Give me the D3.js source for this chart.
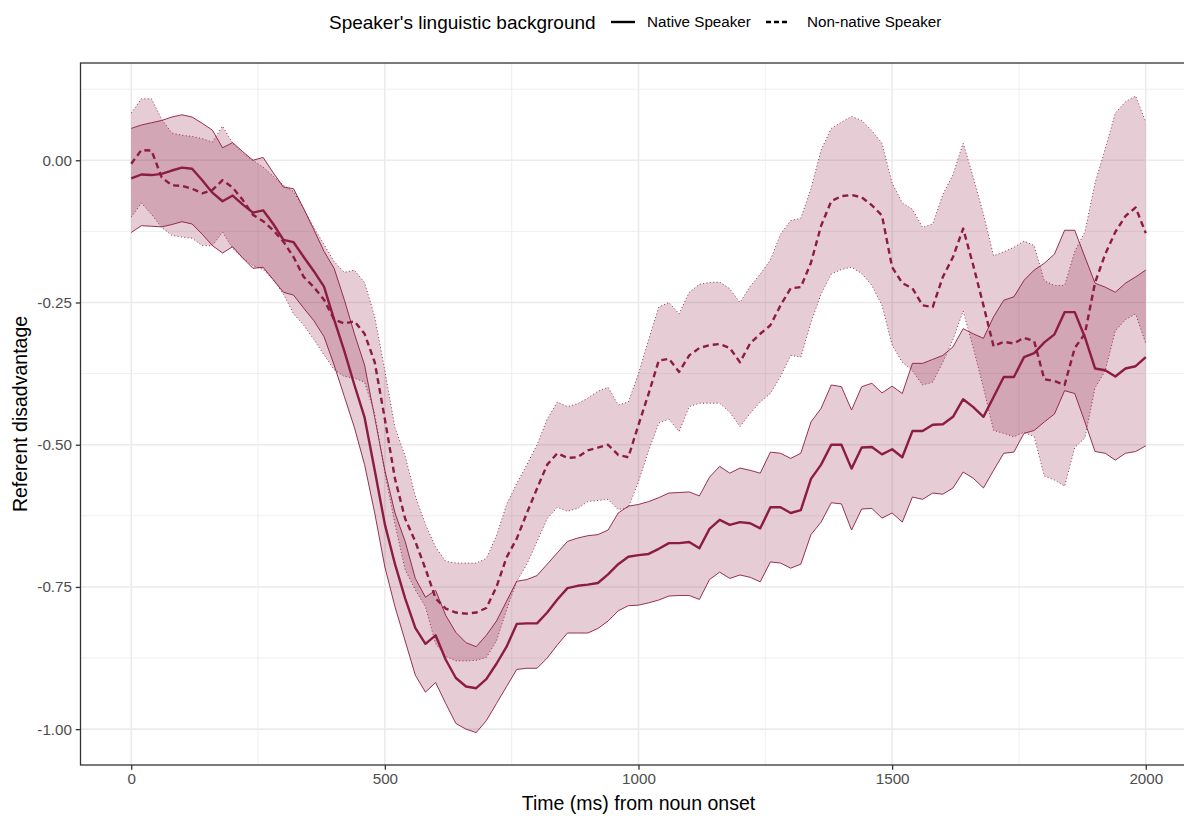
<!DOCTYPE html>
<html>
<head>
<meta charset="utf-8">
<script src="https://cdn.jsdelivr.net/npm/d3@7"></script>
<style>
  html, body { margin: 0; padding: 0; background: #ffffff; }
  svg { display: block; font-family: "Liberation Sans", Arial, sans-serif; }
</style>
</head>
<body>
<svg id="chart" width="1184" height="816"></svg>
<script>
// Time bins (ms from noun onset), one every 20 ms
const timeMs = d3.range(0, 2001, 20);

// Native speaker: mean referent disadvantage and its confidence band
const nativeMean = [
  -0.032,-0.025,-0.026,-0.024,-0.018,-0.013,-0.015,-0.035,-0.057,-0.072,
  -0.062,-0.078,-0.092,-0.088,-0.112,-0.140,-0.144,-0.170,-0.195,-0.222,
  -0.280,-0.335,-0.395,-0.452,-0.545,-0.640,-0.710,-0.770,-0.822,-0.850,
  -0.835,-0.878,-0.910,-0.925,-0.928,-0.912,-0.885,-0.855,-0.815,-0.814,
  -0.814,-0.795,-0.772,-0.752,-0.748,-0.746,-0.743,-0.728,-0.710,-0.697,
  -0.694,-0.692,-0.683,-0.673,-0.673,-0.671,-0.682,-0.648,-0.632,-0.641,
  -0.636,-0.638,-0.647,-0.610,-0.610,-0.620,-0.615,-0.560,-0.535,-0.500,
  -0.500,-0.542,-0.505,-0.504,-0.517,-0.508,-0.522,-0.476,-0.476,-0.465,
  -0.464,-0.451,-0.420,-0.434,-0.451,-0.416,-0.381,-0.381,-0.346,-0.339,
  -0.320,-0.306,-0.267,-0.267,-0.311,-0.366,-0.369,-0.380,-0.366,-0.362,
  -0.346
];
const nativeUpper = [
   0.056, 0.062, 0.066, 0.070, 0.076, 0.080, 0.076, 0.065, 0.053, 0.022,
   0.031, 0.015, 0.000, 0.005,-0.022,-0.047,-0.050,-0.085,-0.122,-0.160,
  -0.190,-0.245,-0.305,-0.360,-0.452,-0.545,-0.620,-0.670,-0.735,-0.768,
  -0.756,-0.800,-0.830,-0.848,-0.855,-0.835,-0.810,-0.775,-0.740,-0.737,
  -0.730,-0.710,-0.690,-0.670,-0.664,-0.660,-0.658,-0.650,-0.620,-0.608,
  -0.605,-0.600,-0.593,-0.585,-0.584,-0.583,-0.590,-0.557,-0.538,-0.550,
  -0.541,-0.545,-0.550,-0.513,-0.515,-0.524,-0.515,-0.460,-0.436,-0.395,
  -0.398,-0.439,-0.398,-0.392,-0.409,-0.397,-0.410,-0.357,-0.357,-0.350,
  -0.343,-0.328,-0.296,-0.305,-0.313,-0.275,-0.246,-0.240,-0.211,-0.193,
  -0.181,-0.165,-0.123,-0.123,-0.170,-0.216,-0.223,-0.232,-0.216,-0.205,
  -0.193
];
const nativeLower = [
  -0.127,-0.115,-0.116,-0.117,-0.113,-0.108,-0.112,-0.130,-0.150,-0.163,
  -0.152,-0.172,-0.190,-0.188,-0.210,-0.232,-0.237,-0.260,-0.282,-0.310,
  -0.360,-0.415,-0.470,-0.535,-0.620,-0.715,-0.785,-0.845,-0.905,-0.935,
  -0.918,-0.955,-0.990,-1.000,-1.006,-0.985,-0.955,-0.925,-0.895,-0.893,
  -0.893,-0.875,-0.852,-0.831,-0.831,-0.831,-0.823,-0.810,-0.792,-0.783,
  -0.782,-0.778,-0.773,-0.766,-0.765,-0.765,-0.772,-0.737,-0.724,-0.735,
  -0.729,-0.733,-0.741,-0.706,-0.708,-0.717,-0.710,-0.658,-0.636,-0.602,
  -0.604,-0.650,-0.613,-0.612,-0.629,-0.620,-0.636,-0.592,-0.596,-0.585,
  -0.587,-0.576,-0.548,-0.559,-0.576,-0.545,-0.515,-0.513,-0.480,-0.475,
  -0.460,-0.446,-0.405,-0.410,-0.460,-0.512,-0.515,-0.527,-0.515,-0.512,
  -0.502
];

// Non-native speaker: mean referent disadvantage and its confidence band
const nonNativeMean = [
  -0.006, 0.018, 0.017,-0.030,-0.044,-0.045,-0.050,-0.058,-0.052,-0.035,
  -0.048,-0.070,-0.096,-0.107,-0.123,-0.143,-0.170,-0.205,-0.223,-0.245,
  -0.280,-0.287,-0.283,-0.305,-0.355,-0.455,-0.560,-0.630,-0.670,-0.718,
  -0.770,-0.788,-0.795,-0.797,-0.795,-0.787,-0.750,-0.698,-0.665,-0.620,
  -0.577,-0.535,-0.515,-0.523,-0.522,-0.510,-0.505,-0.500,-0.518,-0.522,
  -0.465,-0.410,-0.352,-0.349,-0.372,-0.343,-0.330,-0.325,-0.323,-0.330,
  -0.355,-0.322,-0.305,-0.290,-0.255,-0.225,-0.223,-0.180,-0.115,-0.072,
  -0.063,-0.061,-0.065,-0.079,-0.097,-0.188,-0.216,-0.225,-0.255,-0.258,
  -0.205,-0.170,-0.120,-0.185,-0.255,-0.327,-0.319,-0.322,-0.312,-0.318,
  -0.385,-0.388,-0.395,-0.330,-0.305,-0.215,-0.165,-0.126,-0.098,-0.083,
  -0.128
];
const nonNativeUpper = [
   0.083, 0.108, 0.108, 0.072, 0.048, 0.044, 0.042, 0.038, 0.032, 0.060,
   0.030, 0.012, 0.000,-0.012,-0.028,-0.044,-0.055,-0.085,-0.118,-0.148,
  -0.178,-0.197,-0.193,-0.215,-0.275,-0.370,-0.470,-0.520,-0.590,-0.640,
  -0.680,-0.705,-0.708,-0.708,-0.708,-0.700,-0.660,-0.605,-0.568,-0.535,
  -0.500,-0.455,-0.425,-0.433,-0.428,-0.418,-0.406,-0.399,-0.430,-0.425,
  -0.375,-0.315,-0.258,-0.250,-0.270,-0.232,-0.218,-0.215,-0.214,-0.226,
  -0.250,-0.222,-0.200,-0.175,-0.130,-0.106,-0.102,-0.050, 0.018, 0.056,
   0.067, 0.077, 0.070, 0.052, 0.030,-0.040,-0.075,-0.086,-0.118,-0.112,
  -0.060,-0.025, 0.030,-0.030,-0.095,-0.168,-0.161,-0.153,-0.142,-0.150,
  -0.212,-0.220,-0.220,-0.160,-0.126,-0.040, 0.020, 0.083, 0.103, 0.113,
   0.067
];
const nonNativeLower = [
  -0.100,-0.075,-0.095,-0.118,-0.132,-0.135,-0.137,-0.150,-0.150,-0.126,
  -0.155,-0.172,-0.185,-0.192,-0.210,-0.235,-0.270,-0.290,-0.315,-0.342,
  -0.368,-0.380,-0.383,-0.390,-0.445,-0.550,-0.640,-0.720,-0.755,-0.785,
  -0.850,-0.872,-0.880,-0.880,-0.879,-0.874,-0.845,-0.790,-0.740,-0.710,
  -0.670,-0.630,-0.610,-0.617,-0.612,-0.600,-0.598,-0.596,-0.614,-0.610,
  -0.565,-0.510,-0.462,-0.455,-0.477,-0.433,-0.427,-0.427,-0.427,-0.443,
  -0.468,-0.445,-0.425,-0.410,-0.380,-0.343,-0.346,-0.285,-0.235,-0.200,
  -0.192,-0.188,-0.199,-0.220,-0.255,-0.325,-0.355,-0.370,-0.395,-0.390,
  -0.355,-0.315,-0.265,-0.330,-0.400,-0.475,-0.480,-0.486,-0.478,-0.486,
  -0.555,-0.562,-0.573,-0.505,-0.488,-0.400,-0.370,-0.300,-0.280,-0.270,
  -0.322
];

// Axis breaks
const xTicks = [0, 500, 1000, 1500, 2000];
const xMinorTicks = [250, 750, 1250, 1750];
const yTicks = [0, -0.25, -0.5, -0.75, -1];
const yMinorTicks = [0.125, -0.125, -0.375, -0.625, -0.875];

// Legend entries and titles
const groupLabels = ["Native Speaker", "Non-native Speaker"];
const legendTitle = "Speaker's linguistic background";
const xTitle = "Time (ms) from noun onset";
const yTitle = "Referent disadvantage";

// ---- layout ----
const panel = { left: 80.5, right: 1196.5, top: 63, bottom: 765 };
const lineColor = "#8c1c40";
const fillColor = "#8c1c40";
const fillOpacity = 0.22;
const meanWidth = 2.4;
const dashPattern = "6,4";

const svg = d3.select("#chart");

const x = d3.scaleLinear().domain([-100, 2100]).range([panel.left, panel.right]);
const y = d3.scaleLinear().domain([-1.063, 0.171]).range([panel.bottom, panel.top]);

const rows = timeMs.map((t, i) => ({
  t,
  nm: nativeMean[i], nu: nativeUpper[i], nl: nativeLower[i],
  qm: nonNativeMean[i], qu: nonNativeUpper[i], ql: nonNativeLower[i]
}));

svg.append("defs").append("clipPath").attr("id", "panel-clip")
  .append("rect")
  .attr("x", panel.left).attr("y", panel.top)
  .attr("width", panel.right - panel.left)
  .attr("height", panel.bottom - panel.top);

// grid: minor lines first, then major
const grid = svg.append("g");
grid.selectAll("line.xminor").data(xMinorTicks).join("line")
  .attr("x1", d => x(d)).attr("x2", d => x(d))
  .attr("y1", panel.top).attr("y2", panel.bottom)
  .attr("stroke", "#ebebeb").attr("stroke-width", 0.8);
grid.selectAll("line.yminor").data(yMinorTicks).join("line")
  .attr("y1", d => y(d)).attr("y2", d => y(d))
  .attr("x1", panel.left).attr("x2", panel.right)
  .attr("stroke", "#ebebeb").attr("stroke-width", 0.8);
grid.selectAll("line.xmajor").data(xTicks).join("line")
  .attr("x1", d => x(d)).attr("x2", d => x(d))
  .attr("y1", panel.top).attr("y2", panel.bottom)
  .attr("stroke", "#ebebeb").attr("stroke-width", 1.6);
grid.selectAll("line.ymajor").data(yTicks).join("line")
  .attr("y1", d => y(d)).attr("y2", d => y(d))
  .attr("x1", panel.left).attr("x2", panel.right)
  .attr("stroke", "#ebebeb").attr("stroke-width", 1.6);

// ribbons, ribbon outlines, then mean lines
const plot = svg.append("g").attr("clip-path", "url(#panel-clip)");

const groups = [
  { key: "native", mean: "nm", up: "nu", lo: "nl", outline: null, dash: null },
  { key: "nonnative", mean: "qm", up: "qu", lo: "ql", outline: "1,2.4", dash: dashPattern }
];

groups.forEach(g => {
  const area = d3.area().x(d => x(d.t)).y0(d => y(d[g.lo])).y1(d => y(d[g.up]));
  plot.append("path").datum(rows)
    .attr("d", area)
    .attr("fill", fillColor).attr("fill-opacity", fillOpacity);
});

groups.forEach(g => {
  [g.up, g.lo].forEach(k => {
    const edge = d3.line().x(d => x(d.t)).y(d => y(d[k]));
    plot.append("path").datum(rows)
      .attr("d", edge)
      .attr("fill", "none")
      .attr("stroke", lineColor).attr("stroke-width", 0.9)
      .attr("stroke-dasharray", g.outline);
  });
});

groups.forEach(g => {
  const meanLine = d3.line().x(d => x(d.t)).y(d => y(d[g.mean]));
  plot.append("path").datum(rows)
    .attr("d", meanLine)
    .attr("fill", "none")
    .attr("stroke", lineColor).attr("stroke-width", meanWidth)
    .attr("stroke-linejoin", "round")
    .attr("stroke-dasharray", g.dash);
});

// panel border
svg.append("rect")
  .attr("x", panel.left).attr("y", panel.top)
  .attr("width", panel.right - panel.left)
  .attr("height", panel.bottom - panel.top)
  .attr("fill", "none").attr("stroke", "#333333").attr("stroke-width", 1.3);

// axes
const tickLen = 4.75, tickPad = 3.8;
const xAxis = svg.append("g")
  .attr("transform", `translate(0,${panel.bottom})`)
  .call(d3.axisBottom(x).tickValues(xTicks).tickFormat(d3.format("d"))
    .tickSize(tickLen).tickPadding(tickPad));
const yAxis = svg.append("g")
  .attr("transform", `translate(${panel.left},0)`)
  .call(d3.axisLeft(y).tickValues(yTicks).tickFormat(d => d.toFixed(2))
    .tickSize(tickLen).tickPadding(tickPad));

[xAxis, yAxis].forEach(a => {
  a.select(".domain").remove();
  a.selectAll(".tick line").attr("stroke", "#333333").attr("stroke-width", 1.3);
  a.selectAll(".tick text")
    .attr("fill", "#4d4d4d")
    .style("font-size", "15.2px")
    .style("font-family", "'Liberation Sans', Arial, sans-serif");
});

// axis titles
svg.append("text")
  .attr("x", (panel.left + panel.right) / 2).attr("y", 810)
  .attr("text-anchor", "middle")
  .style("font-size", "19.5px").attr("fill", "#000")
  .text(xTitle);
svg.append("text")
  .attr("transform", `translate(27,${(panel.top + panel.bottom) / 2}) rotate(-90)`)
  .attr("text-anchor", "middle")
  .style("font-size", "19.5px").attr("fill", "#000")
  .text(yTitle);

// legend
const legend = svg.append("g");
const legendY = 22;
legend.append("text")
  .attr("x", 329).attr("y", legendY + 6.8)
  .style("font-size", "19px").attr("fill", "#000")
  .text(legendTitle);

const keys = [
  { x0: 611, x1: 635, tx: 647, dash: null },
  { x0: 766, x1: 789, tx: 807, dash: "5,3" }
];
keys.forEach((k, i) => {
  legend.append("line")
    .attr("x1", k.x0).attr("x2", k.x1)
    .attr("y1", legendY).attr("y2", legendY)
    .attr("stroke", "#000").attr("stroke-width", meanWidth)
    .attr("stroke-dasharray", k.dash);
  legend.append("text")
    .attr("x", k.tx).attr("y", legendY + 5.4)
    .style("font-size", "15.2px").attr("fill", "#000")
    .text(groupLabels[i]);
});
</script>
</body>
</html>
